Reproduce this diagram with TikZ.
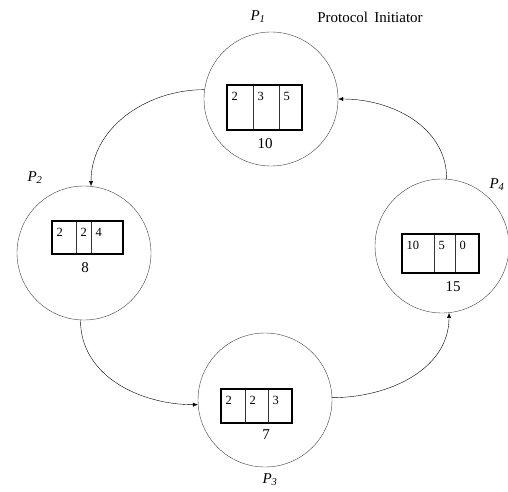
\documentclass[tikz,border=0pt]{standalone}
\usepackage{fontspec}
\setmainfont{Liberation Serif}
\usetikzlibrary{arrows.meta,positioning}

\begin{document}
\begin{tikzpicture}[
  x = 1pt, y = 1pt,
  > = {Latex[length=5pt,width=4pt]},
  font = \fontsize{15}{17}\selectfont,
  proc/.style = {circle, draw=black!75, minimum size=134pt, inner sep=0pt},
  cell/.style 2 args = {draw=black!80, line width=0.6pt, inner sep=0pt,
                        outer sep=0pt, anchor=north west,
                        minimum width=#1, minimum height=#2},
  num/.style = {anchor=north west, inner xsep=4.5pt, inner ysep=7pt,
                font=\fontsize{12.5}{12.5}\selectfont},
  frame/.style = {line width=1.6pt},
  lbl/.style = {font=\fontsize{15}{16}\selectfont\itshape}
]
\useasboundingbox (0,0) rectangle (508,491);

% processes
\node[proc] (p1) at (271,392) {};
\node[proc] (p2) at (84,238) {};
\node[proc] (p3) at (265,91) {};
\node[proc] (p4) at (442,245) {};

% P1 register
\node[cell={26pt}{45pt}, label={[num]north west:2}] (p1a) at (227,406) {};
\node[cell={26pt}{45pt}, label={[num]north west:3}, right=0pt of p1a] (p1b) {};
\node[cell={23pt}{45pt}, label={[num]north west:5}, right=0pt of p1b] (p1c) {};
\draw[frame] (p1a.north west) rectangle (p1c.south east);
\node (v1) at (265,347) {10};

% P2 register
\node[cell={24pt}{33pt}, label={[num]north west:2}] (p2a) at (52,270) {};
\node[cell={15pt}{33pt}, label={[num]north west:2}, right=0pt of p2a] (p2b) {};
\node[cell={32pt}{33pt}, label={[num]north west:4}, right=0pt of p2b] (p2c) {};
\draw[frame] (p2a.north west) rectangle (p2c.south east);
\node (v2) at (85,223) {8};

% P3 register
\node[cell={24pt}{34pt}, label={[num]north west:2}] (p3a) at (221,102) {};
\node[cell={23pt}{34pt}, label={[num]north west:2}, right=0pt of p3a] (p3b) {};
\node[cell={24pt}{34pt}, label={[num]north west:3}, right=0pt of p3b] (p3c) {};
\draw[frame] (p3a.north west) rectangle (p3c.south east);
\node (v3) at (266,56) {7};

% P4 register
\node[cell={32pt}{39pt}, label={[num]north west:10}] (p4a) at (402,257) {};
\node[cell={21pt}{39pt}, label={[num]north west:5}, right=0pt of p4a] (p4b) {};
\node[cell={24pt}{39pt}, label={[num]north west:0}, right=0pt of p4b] (p4c) {};
\draw[frame] (p4a.north west) rectangle (p4c.south east);
\node (v4) at (453,204) {15};

% labels
\node[lbl] (n1) at (258,474) {P\textsubscript{1}};
\node[lbl] (n2) at (35,313) {P\textsubscript{2}};
\node[lbl] (n3) at (270,11) {P\textsubscript{3}};
\node[lbl] (n4) at (497,306) {P\textsubscript{4}};
\node (init) at (370,474) {Protocol\, Initiator};

% ring
\draw[->] (p1.172) to[out=180, in=90] (p2.84);
\draw[->] (p2.267) to[out=-90, in=180] (p3.184);
\draw[->] (p3.2) to[out=0, in=-90] (p4.-84);
\draw[->] (p4.86) to[out=90, in=0] (p1.east);
\end{tikzpicture}
\end{document}
